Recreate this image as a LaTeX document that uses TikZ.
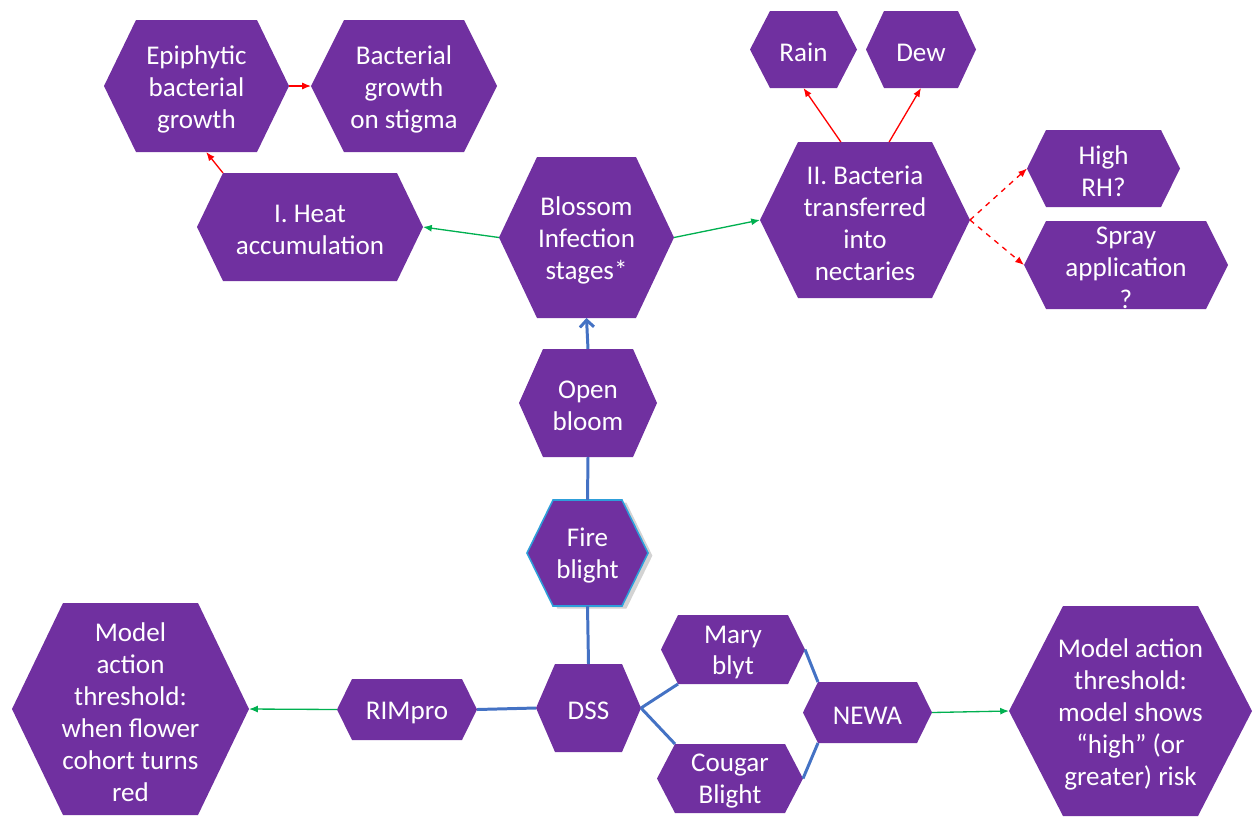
\documentclass[tikz,border=0pt]{standalone}
\usepackage{fontspec}
\setmainfont{Carlito}
\usetikzlibrary{arrows.meta,calc,shadows}

\definecolor{hexpurple}{HTML}{7030A0}
\definecolor{linkblue}{HTML}{4472C4}
\definecolor{arrgreen}{HTML}{00B050}
\definecolor{firebord}{HTML}{2E9FDA}

\tikzset{
  hexfill/.style={fill=hexpurple,draw=none},
  hextext/.style={text=white,align=center,inner sep=0pt,yshift=-1.7pt,font=\fontsize{15.4}{18.2}\selectfont},
  redarrow/.style={draw=red,line width=0.75pt,-{Latex[length=5pt,width=4pt]}},
  greenarrow/.style={draw=arrgreen,line width=0.75pt,-{Latex[length=5pt,width=4pt]}},
  bluelink/.style={draw=linkblue,line width=1.7pt}
}

% \hexa[opts]{name}{x}{y}{width}{height}{inset}{text}
\newcommand{\hexa}[8][]{%
  \coordinate (#2-w) at ({#3-#5/2},#4);
  \coordinate (#2-e) at ({#3+#5/2},#4);
  \coordinate (#2-nw) at ({#3-#5/2+#7},{#4-#6/2});
  \coordinate (#2-ne) at ({#3+#5/2-#7},{#4-#6/2});
  \coordinate (#2-sw) at ({#3-#5/2+#7},{#4+#6/2});
  \coordinate (#2-se) at ({#3+#5/2-#7},{#4+#6/2});
  \coordinate (#2-n) at (#3,{#4-#6/2});
  \coordinate (#2-s) at (#3,{#4+#6/2});
  \filldraw[hexfill,#1] (#2-w) -- (#2-nw) -- (#2-ne) -- (#2-e) -- (#2-se) -- (#2-sw) -- cycle;
  \node[hextext] (#2) at (#3,#4) {#8};
}

\begin{document}
\begin{tikzpicture}[x=0.02cm,y=-0.02cm]
\useasboundingbox (0,0) rectangle (1255,816);

\hexa{epi}{196.5}{86}{185}{132}{32}{Epiphytic\\bacterial\\growth}
\hexa{stig}{404}{86}{186}{132}{33}{Bacterial\\growth\\on stigma}
\hexa{heat}{310}{227}{226}{108}{26}{I. Heat\\accumulation}
\hexa{bloss}{586.5}{237.5}{175}{161}{38}{Blossom\\Infection\\stages*}
\hexa{bact}{865}{220}{210}{156}{38}{II. Bacteria\\transferred\\into\\nectaries}
\hexa{rain}{803.5}{49.5}{107}{77}{20}{Rain}
\hexa{dew}{921}{49.5}{110}{77}{18}{Dew}
\hexa{rh}{1103.5}{168.5}{153}{77}{19}{High\\RH?}
\hexa{spray}{1126}{265}{204}{88}{22}{Spray\\application\\?}
\hexa{open}{588}{403}{138}{108}{24}{Open\\bloom}
\hexa[draw=firebord,line width=0.9pt,drop shadow={shadow xshift=2.5pt,shadow yshift=-1.5pt,opacity=0.35}]{fire}{587.5}{553}{121}{106}{26}{Fire\\blight}
\hexa{dss}{588.5}{708}{105}{88}{19}{DSS}
\hexa{rim}{407}{709.5}{140}{61}{15}{RIMpro}
\hexa{mary}{733}{649.5}{144}{69}{17}{Mary\\blyt}
\hexa{cougar}{730}{778.5}{146}{69}{18}{Cougar\\Blight}
\hexa{newa}{867.5}{712.5}{129}{61}{15}{NEWA}
\hexa{modl}{130.5}{709}{237}{212}{51}{Model\\action\\threshold:\\when flower\\cohort turns\\red}
\hexa{modr}{1130.5}{711}{243}{210}{54}{Model action\\threshold:\\model shows\\“high” (or\\greater) risk}

\draw[redarrow] (heat-nw) -- ($(epi-sw)!0.58!(epi-se)$);
\draw[redarrow] (epi-e) -- (stig-w);
\draw[greenarrow] (bloss-w) -- (heat-e);
\draw[greenarrow] (bloss-e) -- (bact-w);
\draw[redarrow] ($(bact-nw)!0.32!(bact-ne)$) -- (rain-s);
\draw[redarrow] ($(bact-nw)!0.68!(bact-ne)$) -- (dew-s);
\draw[redarrow,dashed] (bact-e) -- (rh-w);
\draw[redarrow,dashed] (bact-e) -- (spray-w);

\draw[bluelink,-{Straight Barb[length=4pt,width=8pt]}] (open-n) -- (bloss-s);
\draw[bluelink] (open-s) -- (fire-n);
\draw[bluelink] (fire-s) -- (dss-n);
\draw[bluelink] (rim-e) -- (dss-w);
\draw[bluelink] (dss-e) -- (mary-sw);
\draw[bluelink] (dss-e) -- (cougar-nw);
\draw[bluelink] (mary-e) -- (newa-nw);
\draw[bluelink] (cougar-e) -- (newa-sw);

\draw[greenarrow] (rim-w) -- (modl-e);
\draw[greenarrow] (newa-e) -- (modr-w);
\end{tikzpicture}
\end{document}
